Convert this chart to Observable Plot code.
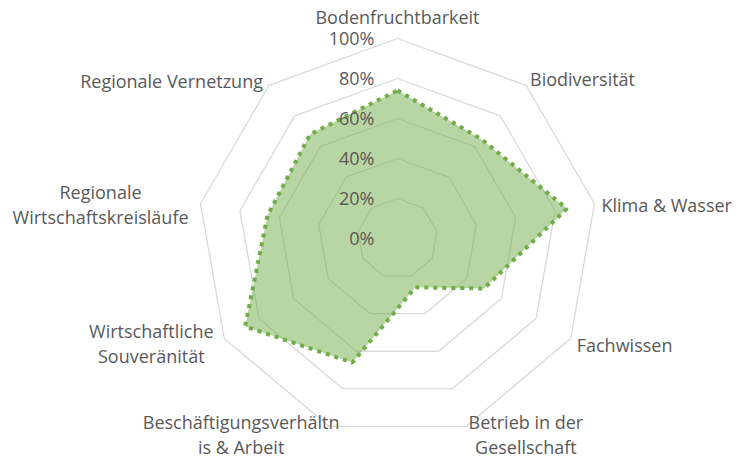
<!DOCTYPE html>
<html>
<head>
<meta charset="utf-8">
<script src="https://cdn.jsdelivr.net/npm/d3@7"></script>
<script src="https://cdn.jsdelivr.net/npm/@observablehq/plot@0.6"></script>
<style>
  html, body { margin: 0; padding: 0; background: #ffffff; }
  #chart svg { display: block; overflow: visible; }
</style>
</head>
<body>
<div id="chart"></div>
<script>
// ---- data ----
const categories = [
  "Bodenfruchtbarkeit",
  "Biodiversität",
  "Klima & Wasser",
  "Fachwissen",
  "Betrieb in der\nGesellschaft",
  "Beschäftigungsverhältn\nis & Arbeit",
  "Wirtschaftliche\nSouveränität",
  "Regionale\nWirtschaftskreisläufe",
  "Regionale Vernetzung"
];
const values = [0.74, 0.65, 0.86, 0.50, 0.26, 0.66, 0.88, 0.66, 0.68];
const tickValues = [0, 0.2, 0.4, 0.6, 0.8, 1.0];
const tickLabels = ["0%", "20%", "40%", "60%", "80%", "100%"];

// ---- label styling (anchor and pixel offsets from the 100% vertex) ----
const labelStyle = [
  {anchor: "middle", dx: 0,   dy: -23},
  {anchor: "start",  dx: 4,   dy: -7},
  {anchor: "start",  dx: 7,   dy: 0},
  {anchor: "start",  dx: 6,   dy: 5},
  {anchor: "middle", dx: 60,  dy: 7},
  {anchor: "middle", dx: -88, dy: 7},
  {anchor: "middle", dx: -73, dy: 4},
  {anchor: "middle", dx: -100, dy: 0},
  {anchor: "end",    dx: -6,  dy: -5}
];

const n = categories.length;
const angle = i => (i % n) * 2 * Math.PI / n;
const px = (r, i) => r * Math.sin(angle(i));
const py = (r, i) => r * Math.cos(angle(i));

// grid rings
const rings = [];
tickValues.filter(t => t > 0).forEach(t => {
  for (let i = 0; i <= n; i++) rings.push({ring: t, x: px(t, i), y: py(t, i)});
});

// series polygon
const poly = [];
for (let i = 0; i <= n; i++) poly.push({x: px(values[i % n], i), y: py(values[i % n], i)});

// tick labels
const ticks = tickValues.map((t, k) => ({x: 0, y: t, label: tickLabels[k]}));

// category labels
const labels = categories.map((c, i) => ({x: px(1, i), y: py(1, i), label: c, i}));

const FONT = "Open Sans";
const textColor = "#595959";
const FS = 18;

const marks = [
  Plot.line(rings, {x: "x", y: "y", z: "ring", stroke: "#d9d9d9", strokeWidth: 1.3, curve: "linear"}),
  Plot.line(poly, {x: "x", y: "y", fill: "#70AD47", fillOpacity: 0.5, stroke: "none", curve: "linear"}),
  Plot.line(poly, {x: "x", y: "y", stroke: "#70AD47", strokeWidth: 4, strokeDasharray: "4,5",
    strokeLinecap: "butt", strokeLinejoin: "miter", curve: "linear"}),
  Plot.text(ticks, {x: "x", y: "y", text: "label", textAnchor: "end", dx: -23, dy: 1, fill: textColor,
    fontSize: FS})
];
labels.forEach(d => {
  const s = labelStyle[d.i];
  marks.push(Plot.text([d], {x: "x", y: "y", text: "label", textAnchor: s.anchor, dx: s.dx, dy: s.dy,
    fill: textColor, fontSize: FS, lineHeight: 1.4}));
});

const chart = Plot.plot({
  width: 738,
  height: 458,
  margin: 0,
  style: {fontFamily: FONT, background: "#ffffff", color: textColor},
  x: {domain: [-1, 1], range: [197, 597], axis: null},
  y: {domain: [-1, 1], range: [438, 38], axis: null},
  marks
});
document.getElementById("chart").appendChild(chart);
</script>
</body>
</html>
